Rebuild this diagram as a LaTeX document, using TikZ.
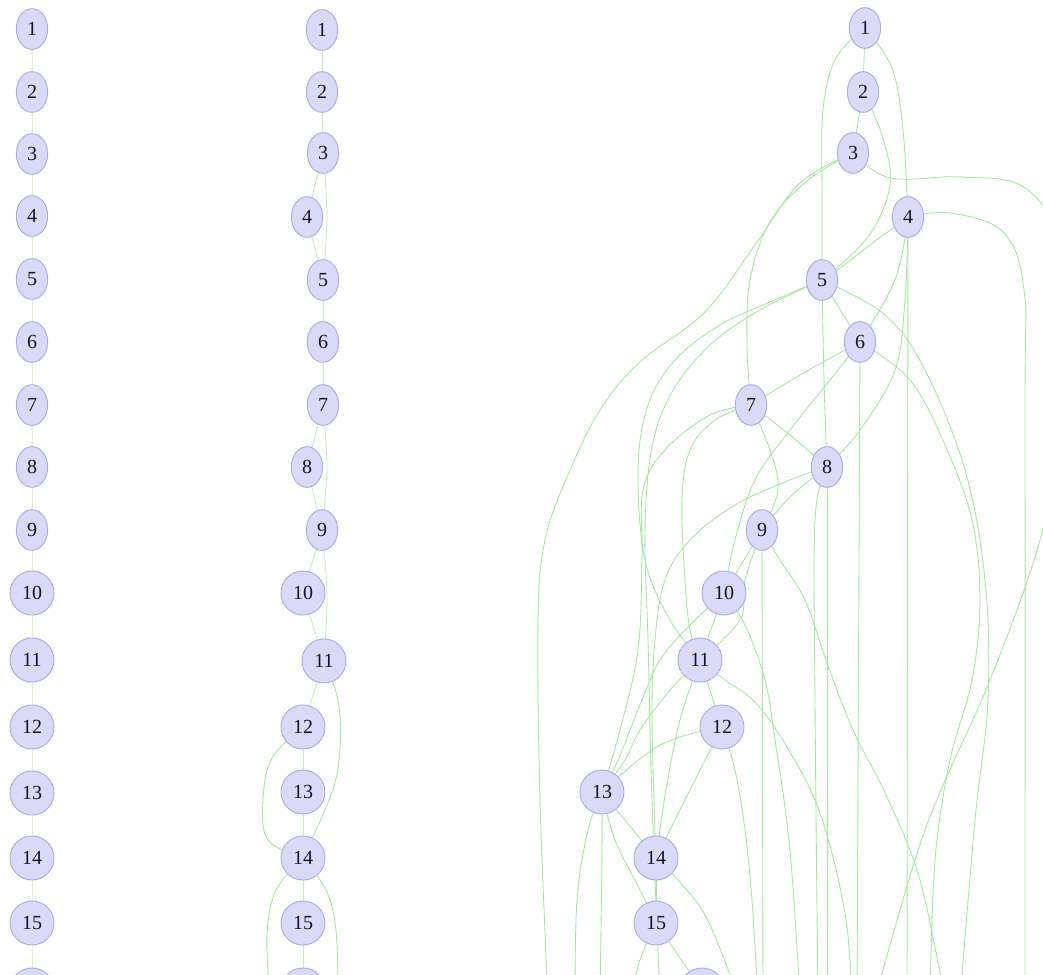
\documentclass[tikz,border=0pt]{standalone}
\usepackage{fontspec}
\setmainfont{Liberation Serif}
\usetikzlibrary{shapes.geometric}
\pgfdeclarelayer{bg}
\pgfsetlayers{bg,main}
\definecolor{nfill}{RGB}{218,218,248}
\definecolor{nline}{RGB}{172,172,228}
\definecolor{ntext}{RGB}{20,20,40}
\definecolor{gl}{RGB}{162,232,158}
\definecolor{ml}{RGB}{200,236,182}
\definecolor{yl}{RGB}{228,241,198}
\tikzset{
  nd/.style={ellipse, draw=nline, fill=nfill, line width=0.7pt, minimum width=23.5pt,
    minimum height=30.5pt, inner sep=0pt, text=ntext, font=\fontsize{15}{15}\selectfont},
  nn/.style={nd, circle, minimum size=33pt},
  gline/.style={draw=gl, line width=0.65pt},
  mline/.style={draw=ml, line width=0.65pt},
  yline/.style={draw=yl, line width=0.65pt},
  sm/.style={smooth, tension=0.6},
}
\begin{document}
\begin{tikzpicture}[x=0.75pt,y=-0.75pt]
\useasboundingbox (0,0) rectangle (1043,975);
% ---------- left column ----------
\foreach \i/\y in {1/29,2/92,3/154,4/216,5/279,6/342,7/405,8/467,9/530}
  \node[nd] (L\i) at (32,\y) {\i};
\foreach \i/\y in {10/593,11/660,12/727,13/793,14/858,15/923,16/990}
  \node[nn] (L\i) at (32,\y) {\i};
% ---------- middle column ----------
\foreach \i/\x/\y in {1/322/30,2/322/92,3/323/153,4/307/217,5/323/280,6/323/342,7/323/405,8/307/467,9/322/530}
  \node[nd] (M\i) at (\x,\y) {\i};
\foreach \i/\x/\y in {10/303/593,11/324/661,12/303/727,13/303/792,14/303/858,15/303/923,16/303/990}
  \node[nn] (M\i) at (\x,\y) {\i};
% ---------- right column ----------
\foreach \i/\x/\y in {1/865/28,2/863/92,3/853/153,4/908/217,5/822/280,6/860/342,7/751/405,8/827/467,9/762/530}
  \node[nd] (R\i) at (\x,\y) {\i};
\foreach \i/\x/\y in {10/724/593,11/700/660,12/722/727,13/602/792,14/656/858,15/656/923,16/702/990}
  \node[nn] (R\i) at (\x,\y) {\i};

\begin{pgfonlayer}{bg}
\fill[white] (0,0) rectangle (1043,975);
\clip (0,0) rectangle (1043,975);
% left column chain
\foreach \i [evaluate=\i as \j using int(\i+1)] in {1,...,15}
  \draw[yline] (L\i.center) -- (L\j.center);
% middle column
\foreach \a/\b in {1/2,2/3,3/4,4/5,5/6,6/7,7/8,8/9,9/10,10/11,11/12,12/13,13/14,14/15,15/16}
  \draw[mline] (M\a.center) -- (M\b.center);
\draw[mline] plot[sm] coordinates {(M3.center) (327,215) (M5.center)};
\draw[mline] plot[sm] coordinates {(M7.center) (327,467) (M9.center)};
\draw[mline] plot[sm] coordinates {(M9.center) (327,595) (M11.center)};
\draw[gline] plot[sm] coordinates {(M11.center) (338,700) (340,748) (332,792) (M14.center)};
\draw[gline] plot[sm] coordinates {(M12.center) (272,758) (263,800) (268,840) (M14.center)};
\draw[gline] plot[sm] coordinates {(M14.center) (276,890) (267,935) (270,1000)};
\draw[gline] plot[sm] coordinates {(M14.center) (326,890) (336,930) (338,1000)};
% right graph
\draw[gline] (R1.center) -- (R2.center);
\draw[gline] (R2.center) -- (R3.center);
\draw[gline] plot[sm] coordinates {(R1.center) (836,58) (823,110) (822,200) (R5.center)};
\draw[gline] plot[sm] coordinates {(R1.center) (892,68) (903,130) (R4.center)};
\draw[gline] plot[sm] coordinates {(R2.center) (882,135) (890,185) (868,237) (R5.center)};
\draw[gline] plot[sm] coordinates {(R3.center) (890,178) (960,177) (1025,188) (1058,250) (1062,420) (1040,540) (990,680) (925,830) (875,1000)};
\draw[gline] plot[sm] coordinates {(R4.center) (950,213) (1003,232) (1024,290) (1025,420) (1025,1000)};
\draw[gline] plot[sm] coordinates {(R3.center) (808,180) (770,222) (750,280) (747,345) (R7.center)};
\draw[gline] plot[sm] coordinates {(R3.center) (800,183) (755,245) (705,312) (640,362) (600,410) (568,475) (545,540) (538,620) (540,800) (548,1000)};
\draw[gline] plot[sm] coordinates {(R4.center) (870,245) (840,268) (R5.center)};
\draw[gline] (R4.center) -- (907,1000);
\draw[gline] plot[sm] coordinates {(R4.center) (905,300) (895,370) (860,430) (R8.center)};
\draw[gline] plot[sm] coordinates {(R4.center) (895,280) (R6.center)};
\draw[gline] (R5.center) -- (R6.center);
\draw[gline] plot[sm] coordinates {(R5.center) (824,380) (R8.center)};
\draw[gline] plot[sm] coordinates {(R5.center) (770,302) (720,325) (675,360) (648,405) (638,470) (645,560) (670,620) (R11.center)};
\draw[gline] plot[sm] coordinates {(R5.center) (760,310) (710,345) (672,392) (652,447) (645,530) (648,640) (652,800) (660,1000)};
\draw[gline] plot[sm] coordinates {(R5.center) (885,315) (925,370) (965,470) (985,580) (988,700) (975,820) (960,1000)};
\draw[gline] plot[sm] coordinates {(R6.center) (800,375) (R7.center)};
\draw[gline] (R6.center) -- (857,1000);
\draw[gline] plot[sm] coordinates {(R6.center) (910,380) (945,445) (972,520) (980,600) (972,680) (950,760) (935,860) (930,1000)};
\draw[gline] plot[sm] coordinates {(R6.center) (830,380) (790,430) (755,480) (735,540) (R10.center)};
\draw[gline] plot[sm] coordinates {(R7.center) (790,435) (R8.center)};
\draw[gline] plot[sm] coordinates {(R7.center) (770,450) (778,490) (R9.center)};
\draw[gline] plot[sm] coordinates {(R7.center) (715,420) (690,450) (682,500) (685,580) (690,630) (R11.center)};
\draw[gline] plot[sm] coordinates {(R7.center) (710,415) (665,450) (643,490) (642,560) (638,650) (620,730) (R13.center)};
\draw[gline] plot[sm] coordinates {(R8.center) (790,497) (R9.center)};
\draw[gline] (R8.center) -- (827,1000);
\draw[gline] plot[sm] coordinates {(R8.center) (815,520) (815,700) (818,1000)};
\draw[gline] plot[sm] coordinates {(R8.center) (790,480) (735,505) (690,540) (665,580) (655,640) (652,720) (R14.center)};
\draw[gline] (R9.center) -- (R10.center);
\draw[gline] (R9.center) -- (763,1000);
\draw[gline] plot[sm] coordinates {(R9.center) (780,560) (805,600) (827,663) (853,730) (887,797) (920,880) (945,1000)};
\draw[gline] plot[sm] coordinates {(R9.center) (745,580) (740,620) (R11.center)};
\draw[gline] (R10.center) -- (R11.center);
\draw[gline] plot[sm] coordinates {(R10.center) (745,625) (765,680) (775,740) (790,850) (800,1000)};
\draw[gline] plot[sm] coordinates {(R10.center) (690,625) (660,660) (640,705) (618,760) (R13.center)};
\draw[gline] (R11.center) -- (R12.center);
\draw[gline] plot[sm] coordinates {(R11.center) (725,680) (755,702) (787,747) (820,813) (845,913) (852,1000)};
\draw[gline] plot[sm] coordinates {(R11.center) (670,690) (640,730) (625,760) (R13.center)};
\draw[gline] plot[sm] coordinates {(R11.center) (680,720) (666,790) (R14.center)};
\draw[gline] plot[sm] coordinates {(R12.center) (660,745) (R13.center)};
\draw[gline] plot[sm] coordinates {(R12.center) (695,780) (R14.center)};
\draw[gline] plot[sm] coordinates {(R12.center) (735,770) (745,830) (752,900) (758,1000)};
\draw[gline] (R13.center) -- (R14.center);
\draw[gline] plot[sm] coordinates {(R13.center) (588,830) (577,900) (575,1000)};
\draw[gline] plot[sm] coordinates {(R13.center) (602,850) (600,1000)};
\draw[gline] plot[sm] coordinates {(R13.center) (615,840) (640,890) (R15.center)};
\draw[gline] (R14.center) -- (R15.center);
\draw[gline] plot[sm] coordinates {(R14.center) (678,880) (705,915) (730,975) (735,1000)};
\draw[gline] (R15.center) -- (R16.center);
\draw[gline] plot[sm] coordinates {(R15.center) (640,960) (630,1000)};
\end{pgfonlayer}
\end{tikzpicture}
\end{document}
